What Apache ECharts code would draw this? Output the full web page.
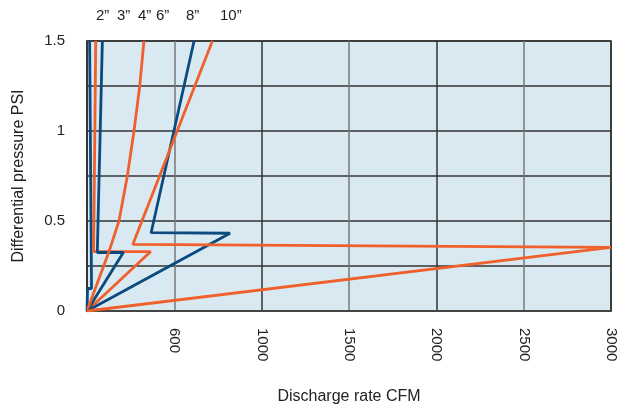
<!DOCTYPE html>
<html>
<head>
<meta charset="utf-8">
<script src="https://cdn.jsdelivr.net/npm/echarts@6/dist/echarts.min.js"></script>
<style>
html,body{margin:0;padding:0;background:#fff;}
#chart{width:631px;height:410px;}
</style>
</head>
<body>
<div id="chart"></div>
<script>
// Pipe sizes (series names, shown above plot)
const sizes = ['2\u201D', '3\u201D', '4\u201D', '6\u201D', '8\u201D', '10\u201D'];
// Each series: [CFM, PSI] points in drawing order
const s2  = [[0,0],[3,0.125],[26,0.125],[15,1.5]];
const s3  = [[0,0],[365,0.33],[38,0.33],[50,1.5]];
const s4  = [[0,0],[208,0.325],[59,0.325],[88,1.5]];
const s6  = [[0,0],[126,0.33],[183,0.5],[231,0.75],[269,1.0],[302,1.25],[326,1.5]];
const s8  = [[0,0],[819,0.432],[367,0.435],[613,1.5]];
const s10 = [[0,0],[3000,0.354],[262,0.37],[718,1.5]];
// Tick labels (as printed on the original)
const xTickValues = [0, 500, 1000, 1500, 2000, 2500, 3000];
const xTickLabels = ['', '600', '1000', '1500', '2000', '2500', '3000'];
const yTickValues = [0, 0.5, 1, 1.5];
const yTickLabels = ['0', '0.5', '1', '1.5'];

const BLUE = '#0b4a7e', ORANGE = '#f0602d';
const seriesData = [s2, s3, s4, s6, s8, s10];
const colors = [BLUE, ORANGE, BLUE, ORANGE, BLUE, ORANGE];
const labelX = [96, 117, 138, 156, 186, 220];
const FONT = '"Liberation Sans", Arial, sans-serif';

const chart = echarts.init(document.getElementById('chart'));
chart.setOption({
  animation: false,
  textStyle: {fontFamily: FONT},
  grid: {left: 87, right: 20, top: 41, bottom: 99, show: true,
         backgroundColor: '#d9e9f2', borderColor: '#333', borderWidth: 1.5},
  xAxis: {
    type: 'value', min: 0, max: 3000, interval: 500,
    name: 'Discharge rate CFM', nameLocation: 'middle', nameGap: 78,
    nameTextStyle: {fontSize: 16, color: '#222', fontFamily: FONT},
    axisLine: {show: true, onZero: false, lineStyle: {color: '#444', width: 2}},
    axisTick: {show: false},
    axisLabel: {rotate: -90, fontSize: 15, color: '#222', margin: 17, fontFamily: FONT,
      formatter: v => { const i = xTickValues.indexOf(v); return i >= 0 ? xTickLabels[i] : ''; }},
    splitLine: {show: true, lineStyle: {color: ['#333', '#777'], width: 1.5}}
  },
  yAxis: {
    type: 'value', min: 0, max: 1.5, interval: 0.25,
    name: 'Differential pressure PSI', nameLocation: 'middle', nameGap: 60,
    nameTextStyle: {fontSize: 16, color: '#222', fontFamily: FONT},
    axisLine: {show: true, lineStyle: {color: '#333', width: 1.5}},
    axisTick: {show: false},
    axisLabel: {fontSize: 15, color: '#222', margin: 22, fontFamily: FONT,
      formatter: v => { const i = yTickValues.findIndex(t => Math.abs(t - v) < 1e-9); return i >= 0 ? yTickLabels[i] : ''; }},
    splitLine: {show: true, lineStyle: {color: '#333', width: 1.5}}
  },
  graphic: sizes.map((s, i) => ({
    type: 'text', left: labelX[i], top: 8,
    style: {text: s, fontSize: 15, fill: '#222', font: '15px ' + FONT, textAlign: 'center'}
  })),
  series: seriesData.map((d, i) => ({
    name: sizes[i], type: 'line', data: d, symbol: 'none', smooth: false,
    lineStyle: {color: colors[i], width: 2.8}, z: 2 + i
  }))
});
</script>
</body>
</html>
